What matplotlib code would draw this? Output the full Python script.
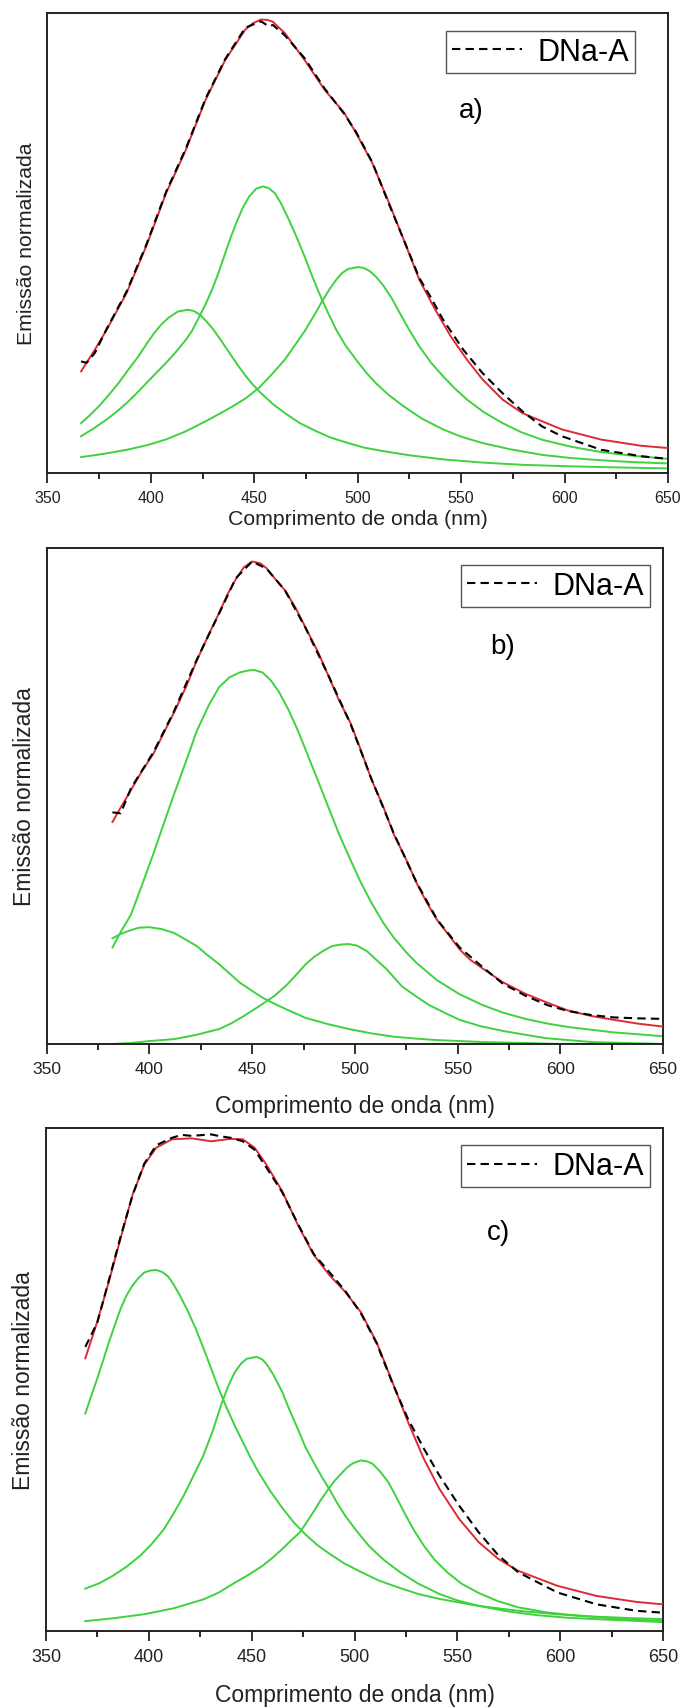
import matplotlib
matplotlib.use('Agg')
import matplotlib.pyplot as plt
from matplotlib.ticker import MultipleLocator

plt.rcParams['font.family'] = ['Liberation Sans', 'DejaVu Sans']

# ---- panel a ----
red_a_x = [366.3, 373, 378.7, 388.3, 397.8, 407.4, 417, 426.5, 436, 445.7, 449.5, 453.3, 456.5, 459, 464.8, 474.3, 484, 493.5, 499.2, 507, 514.5, 522.2, 529.8, 537.5, 545, 552.8, 560.4, 570, 579.6, 598.7, 617.8, 637, 650]
red_a_y = [0.224, 0.272, 0.316, 0.397, 0.50, 0.617, 0.713, 0.823, 0.911, 0.978, 0.992, 1.0, 0.999, 0.995, 0.97, 0.911, 0.845, 0.794, 0.75, 0.684, 0.603, 0.515, 0.426, 0.36, 0.301, 0.25, 0.206, 0.162, 0.132, 0.096, 0.0735, 0.06, 0.055]
dat_a_x = [366.3, 369, 373, 378.7, 388.3, 397.8, 407.4, 417, 426.5, 436, 445.7, 450, 453.3, 457, 459, 464.8, 474.3, 484, 493.5, 499.2, 507, 514.5, 522.2, 529.8, 535, 541, 551, 560.4, 570, 579.6, 589, 598.7, 617.8, 637, 650]
dat_a_y = [0.246, 0.243, 0.265, 0.318, 0.40, 0.503, 0.62, 0.716, 0.826, 0.913, 0.982, 0.99, 0.996, 0.985, 0.988, 0.965, 0.915, 0.848, 0.792, 0.752, 0.686, 0.6, 0.515, 0.43, 0.39, 0.34, 0.272, 0.22, 0.176, 0.136, 0.103, 0.081, 0.051, 0.037, 0.031]
g1_a_x = [366.3, 370, 374.9, 379.5, 384.4, 389, 394, 398, 401.7, 405, 408.5, 413.1, 417.9, 421, 424, 427, 430.3, 434, 438, 442, 445.7, 449.5, 453.3, 459, 464.8, 472, 480, 487, 495.4, 503, 512.6, 525, 541.3, 560, 579.6, 600, 617.8, 650]
g1_a_y = [0.110, 0.125, 0.147, 0.171, 0.198, 0.227, 0.257, 0.285, 0.309, 0.327, 0.342, 0.356, 0.36, 0.357, 0.348, 0.334, 0.316, 0.292, 0.265, 0.238, 0.215, 0.194, 0.176, 0.152, 0.132, 0.11, 0.092, 0.078, 0.066, 0.056, 0.048, 0.039, 0.030, 0.023, 0.018, 0.015, 0.013, 0.010]
g2_a_x = [366.3, 372, 378.7, 383.5, 388.3, 393, 397.8, 402.5, 407.4, 412, 417, 420, 422.7, 426.5, 430.3, 433, 436, 439, 441.8, 444.5, 447.6, 451, 454.3, 457, 460, 463, 466.7, 470.5, 474.3, 478, 482, 485.8, 489.6, 494, 499.2, 504, 508.8, 515, 522.2, 531, 541.3, 550, 560.4, 574, 589, 603, 617.8, 633, 650]
g2_a_y = [0.081, 0.097, 0.118, 0.135, 0.154, 0.175, 0.198, 0.22, 0.243, 0.266, 0.294, 0.314, 0.338, 0.372, 0.412, 0.445, 0.485, 0.524, 0.557, 0.585, 0.61, 0.627, 0.632, 0.628, 0.617, 0.594, 0.559, 0.52, 0.478, 0.434, 0.39, 0.352, 0.316, 0.282, 0.25, 0.222, 0.198, 0.172, 0.147, 0.12, 0.096, 0.08, 0.066, 0.052, 0.040, 0.033, 0.028, 0.024, 0.021]
g3_a_x = [366.3, 377, 388.3, 398, 407.4, 417, 426.5, 433, 440, 446, 452.3, 458, 464.8, 470, 474.3, 479, 483, 486.5, 489.6, 492.5, 495.4, 500.2, 503, 505.9, 509, 512.6, 516.5, 520.3, 525, 529.8, 535.5, 541.3, 547, 552.8, 561, 570, 579, 589, 603, 617.8, 633, 650]
g3_a_y = [0.035, 0.042, 0.051, 0.061, 0.074, 0.092, 0.114, 0.13, 0.148, 0.165, 0.188, 0.215, 0.25, 0.284, 0.312, 0.348, 0.38, 0.406, 0.426, 0.441, 0.45, 0.454, 0.452, 0.445, 0.432, 0.412, 0.385, 0.353, 0.315, 0.279, 0.243, 0.213, 0.186, 0.162, 0.134, 0.11, 0.09, 0.0735, 0.058, 0.046, 0.038, 0.031]

# ---- panel b ----
red_b_x = [382, 386, 391, 396, 402, 407, 412, 418, 423, 429, 434, 438, 442, 446, 450, 454, 457, 461, 466, 471, 476, 482, 487, 492, 498, 503, 508, 514, 519, 525, 530, 535, 540, 546, 551, 556, 562, 572, 583, 594, 604, 615, 626, 638, 650]
red_b_y = [0.46, 0.49, 0.526, 0.563, 0.602, 0.645, 0.687, 0.742, 0.794, 0.85, 0.894, 0.932, 0.963, 0.988, 1.0, 0.996, 0.986, 0.965, 0.94, 0.905, 0.863, 0.813, 0.764, 0.715, 0.664, 0.608, 0.549, 0.49, 0.434, 0.382, 0.334, 0.293, 0.257, 0.224, 0.196, 0.175, 0.157, 0.128, 0.104, 0.085, 0.069, 0.058, 0.05, 0.042, 0.036]
dat_b_x = [382, 386, 391, 402, 412, 423, 434, 442, 450, 457, 466, 476, 487, 498, 508, 519, 530, 540, 551, 562, 572, 583, 594, 604, 615, 626, 638, 650]
dat_b_y = [0.48, 0.478, 0.53, 0.605, 0.69, 0.796, 0.893, 0.965, 1.0, 0.985, 0.94, 0.862, 0.765, 0.662, 0.55, 0.436, 0.335, 0.258, 0.2, 0.16, 0.125, 0.1, 0.08, 0.068, 0.06, 0.055, 0.053, 0.052]
g1_b_x = [382, 386, 391, 395, 400, 406, 412, 417, 423, 428, 434, 439, 444, 450, 455, 461, 466, 476, 487, 497, 508, 519, 530, 540, 562, 583, 600, 650]
g1_b_y = [0.219, 0.228, 0.236, 0.241, 0.242, 0.238, 0.23, 0.218, 0.203, 0.185, 0.165, 0.146, 0.127, 0.11, 0.096, 0.083, 0.073, 0.054, 0.041, 0.031, 0.022, 0.015, 0.011, 0.008, 0.004, 0.002, 0.0, 0.0]
g2_b_x = [382, 386, 391, 396, 402, 407, 412, 418, 423, 429, 434, 439, 444, 448, 451, 455, 459, 463, 468, 472, 476, 482, 487, 492, 498, 503, 508, 514, 519, 525, 530, 540, 551, 562, 572, 583, 594, 604, 626, 650]
g2_b_y = [0.2, 0.232, 0.268, 0.325, 0.395, 0.457, 0.518, 0.588, 0.648, 0.703, 0.74, 0.76, 0.77, 0.774, 0.775, 0.77, 0.754, 0.73, 0.69, 0.652, 0.61, 0.546, 0.492, 0.438, 0.38, 0.334, 0.293, 0.25, 0.22, 0.19, 0.168, 0.132, 0.103, 0.081, 0.065, 0.052, 0.042, 0.035, 0.024, 0.016]
g3_b_x = [382, 391, 400, 412, 423, 434, 440, 446, 453, 461, 467, 472, 476, 480, 485, 489, 493, 497, 501, 506, 510, 515, 519, 523, 530, 536, 544, 551, 561, 572, 583, 593, 615, 650]
g3_b_y = [0.0, 0.002, 0.006, 0.01, 0.019, 0.031, 0.043, 0.058, 0.077, 0.10, 0.123, 0.146, 0.165, 0.18, 0.194, 0.203, 0.206, 0.207, 0.204, 0.192, 0.176, 0.157, 0.138, 0.119, 0.098, 0.081, 0.064, 0.05, 0.037, 0.027, 0.019, 0.012, 0.004, 0.0]

# ---- panel c ----
red_c_x = [369.1, 374.9, 380.6, 386.3, 392.1, 397.8, 403.6, 411.2, 420.8, 430.3, 439.9, 445.7, 451.4, 457.1, 464.8, 472.4, 480.1, 487.7, 495.4, 503, 510.7, 518.4, 526, 533.7, 541.3, 550.9, 560.4, 570, 579.6, 598.7, 617.8, 637, 650]
red_c_y = [0.553, 0.627, 0.709, 0.797, 0.885, 0.946, 0.98, 0.997, 0.999, 0.993, 0.998, 0.997, 0.98, 0.946, 0.892, 0.824, 0.763, 0.722, 0.688, 0.647, 0.586, 0.505, 0.424, 0.349, 0.288, 0.227, 0.18, 0.146, 0.122, 0.0915, 0.071, 0.059, 0.054]
dat_c_x = [369.1, 374.9, 380.6, 386.3, 392.1, 397.8, 403.6, 411.2, 416, 420.8, 430.3, 435, 439.9, 445.7, 451.4, 457.1, 464.8, 472.4, 480.1, 487.7, 495.4, 503, 510.7, 518.4, 526, 533.7, 541.3, 550.9, 560.4, 570, 579.6, 598.7, 617.8, 637, 650]
dat_c_y = [0.576, 0.625, 0.712, 0.8, 0.884, 0.948, 0.985, 1.0, 1.006, 1.004, 1.007, 1.003, 1.0, 0.993, 0.976, 0.94, 0.89, 0.826, 0.765, 0.728, 0.69, 0.645, 0.584, 0.503, 0.43, 0.37, 0.315, 0.254, 0.2, 0.153, 0.119, 0.078, 0.054, 0.041, 0.037]
g1_c_x = [369.1, 372, 374.9, 377.8, 380.6, 383.5, 386.3, 389.2, 392.1, 395, 397.8, 400.7, 403.6, 406.5, 409.3, 412, 415, 418.8, 422.7, 426.5, 430.3, 434, 438, 441.8, 445.7, 449.5, 453.3, 459, 464.8, 470.5, 476.3, 482, 487.7, 495, 503, 512, 522.2, 531, 541.3, 560, 579.6, 598, 617.8, 635, 650]
g1_c_y = [0.441, 0.477, 0.512, 0.549, 0.586, 0.621, 0.654, 0.681, 0.701, 0.716, 0.727, 0.731, 0.732, 0.728, 0.719, 0.703, 0.681, 0.65, 0.614, 0.574, 0.532, 0.491, 0.451, 0.416, 0.383, 0.351, 0.322, 0.284, 0.25, 0.22, 0.195, 0.174, 0.157, 0.137, 0.12, 0.102, 0.087, 0.075, 0.065, 0.051, 0.041, 0.034, 0.029, 0.026, 0.024]
g2_c_x = [369.1, 376, 382.5, 389, 395.9, 401.5, 407.4, 412, 417, 421.5, 426.5, 431, 435.1, 438.5, 441.8, 445, 447.6, 452.3, 455, 457.1, 460.5, 464.8, 468.5, 472.4, 476, 480.1, 484, 487.7, 491.5, 495.4, 501, 506.9, 514, 522.2, 531, 541.3, 550, 560.4, 574, 589, 603, 617.8, 650]
g2_c_y = [0.086, 0.097, 0.112, 0.13, 0.153, 0.177, 0.207, 0.238, 0.275, 0.313, 0.356, 0.405, 0.458, 0.496, 0.525, 0.543, 0.552, 0.556, 0.551, 0.542, 0.52, 0.485, 0.447, 0.41, 0.374, 0.342, 0.313, 0.288, 0.26, 0.234, 0.203, 0.173, 0.145, 0.119, 0.096, 0.075, 0.062, 0.051, 0.04, 0.032, 0.027, 0.024, 0.018]
g3_c_x = [369.1, 383, 397.8, 412, 426.5, 434, 441.8, 448.5, 455.2, 460, 464.8, 469, 473.4, 477, 480.1, 483.5, 486.8, 490, 493.5, 496.5, 499.2, 503, 506, 508.8, 512.5, 516.4, 520, 524.1, 528.5, 533.7, 539, 545.1, 552, 560.4, 570, 579.6, 593, 608.3, 628, 650]
g3_c_y = [0.02, 0.026, 0.034, 0.046, 0.064, 0.078, 0.098, 0.114, 0.132, 0.148, 0.166, 0.183, 0.2, 0.222, 0.242, 0.265, 0.285, 0.303, 0.319, 0.332, 0.34, 0.346, 0.344, 0.339, 0.323, 0.302, 0.274, 0.241, 0.207, 0.173, 0.144, 0.119, 0.096, 0.077, 0.06, 0.048, 0.038, 0.031, 0.025, 0.02]

RED = '#dc2b35'
GREEN = '#3fd23f'

fig = plt.figure(figsize=(6.86, 17.08), dpi=100)


def panel(rect, greens, red, dat, ytop, letter, letter_xy, leg_xy, tick_fs, lab_fs, xpad):
    ax = fig.add_axes(rect)
    for gx, gy in greens:
        ax.plot(gx, gy, color=GREEN, lw=1.4, zorder=2)
    ax.plot(red[0], red[1], color=RED, lw=1.4, zorder=3)
    ax.plot(dat[0], dat[1], color='black', lw=1.5, ls=(0, (4, 2.5)), zorder=4, label='DNa-A')
    ax.set_xlim(350, 650)
    ax.set_ylim(0, ytop)
    ax.xaxis.set_major_locator(MultipleLocator(50))
    ax.xaxis.set_minor_locator(MultipleLocator(25))
    ax.set_yticks([])
    ax.tick_params(axis='x', which='major', direction='out', length=7, width=1.3, pad=5,
                   labelsize=tick_fs, colors='#222222')
    ax.tick_params(axis='x', which='minor', direction='out', length=4, width=1.2)
    for s in ax.spines.values():
        s.set_linewidth(1.4)
        s.set_color('#222222')
    ax.set_xlabel('Comprimento de onda (nm)', fontsize=lab_fs, color='#222222', labelpad=xpad)
    ax.set_ylabel('Emissão normalizada', fontsize=lab_fs, color='#222222', labelpad=8)
    leg = ax.legend(loc='upper right', bbox_to_anchor=leg_xy, fontsize=22, handlelength=2.3,
                    handletextpad=0.5, borderpad=0.2, borderaxespad=0, fancybox=False,
                    framealpha=1)
    leg.get_frame().set_edgecolor('#555555')
    leg.get_frame().set_linewidth(1.0)
    ax.text(letter_xy[0], letter_xy[1], letter, fontsize=20, ha='center', va='center')
    return ax


panel([0.0690, 0.7225, 0.9048, 0.2692], [(g1_a_x, g1_a_y), (g2_a_x, g2_a_y), (g3_a_x, g3_a_y)],
      (red_a_x, red_a_y), (dat_a_x, dat_a_y), 1.014, 'a)', (555, 0.80), (0.947, 0.962), 11.5, 15.3, 3)
panel([0.0681, 0.3882, 0.8984, 0.2904], [(g1_b_x, g1_b_y), (g2_b_x, g2_b_y), (g3_b_x, g3_b_y)],
      (red_b_x, red_b_y), (dat_b_x, dat_b_y), 1.028, 'b)', (572, 0.825), (0.979, 0.966), 12.5, 16.5, 13)
panel([0.0671, 0.0445, 0.8994, 0.2945], [(g1_c_x, g1_c_y), (g2_c_x, g2_c_y), (g3_c_x, g3_c_y)],
      (red_c_x, red_c_y), (dat_c_x, dat_c_y), 1.02, 'c)', (570, 0.81), (0.979, 0.966), 13, 16.5, 13)

fig.savefig('out.png', dpi=100)
